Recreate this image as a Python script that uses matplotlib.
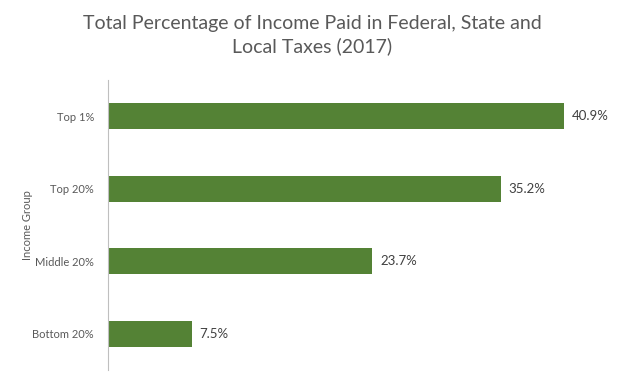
import matplotlib
matplotlib.use("Agg")
import matplotlib.pyplot as plt

categories = ["Bottom 20%", "Middle 20%", "Top 20%", "Top 1%"]
values = [7.5, 23.7, 35.2, 40.9]
value_labels = ["7.5%", "23.7%", "35.2%", "40.9%"]

plt.rcParams['font.family'] = ['Lato', 'DejaVu Sans']

fig = plt.figure(figsize=(6.24, 3.84), dpi=100)
ax = fig.add_axes([108/624, 1 - 370/384, (610-108)/624, 290/384])

ax.barh(range(len(categories)), values, height=0.36, color="#548235")
ax.set_xlim(0, 45)
ax.set_ylim(-0.5, len(categories) - 0.5)
ax.set_yticks(range(len(categories)))
ax.set_yticklabels(categories, fontsize=8, color="#595959")
ax.tick_params(axis='y', length=0, pad=10)
ax.set_xticks([])
for s in ["top", "right", "bottom"]:
    ax.spines[s].set_visible(False)
ax.spines["left"].set_color("#BFBFBF")
ax.spines["left"].set_linewidth(0.8)

for i, (v, lab) in enumerate(zip(values, value_labels)):
    ax.text(v + 0.7, i, lab, va="center", ha="left", fontsize=9.5, color="#404040")

ax.set_ylabel("Income Group", fontsize=8, color="#595959")
ax.yaxis.set_label_coords((33 - 108) / (610 - 108), 0.5)

fig.text(0.5, 1 - 35/384, "Total Percentage of Income Paid in Federal, State and\nLocal Taxes (2017)",
         ha="center", va="center", fontsize=14, color="#595959", linespacing=1.35)

fig.savefig("out.png", dpi=100)
